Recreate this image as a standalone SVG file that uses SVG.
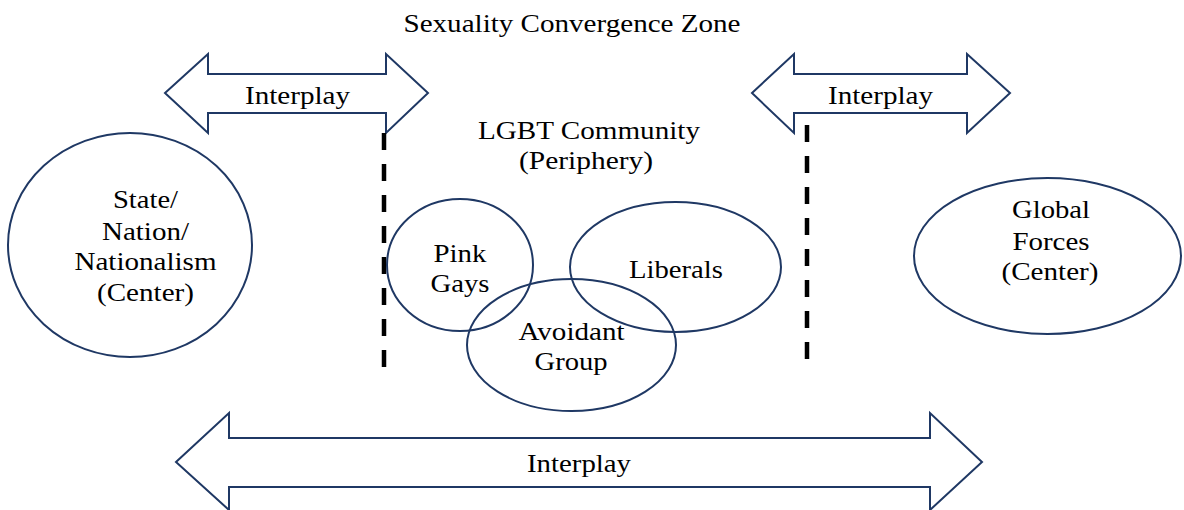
<svg xmlns="http://www.w3.org/2000/svg" width="1184" height="510" viewBox="0 0 1184 510">
  <style>
    .shape { fill: #ffffff; stroke: #1f3864; stroke-width: 2; }
    .ring { fill: none; stroke: #1f3864; stroke-width: 2; }
    .divider { fill: none; stroke: #000000; stroke-width: 4.5; stroke-dasharray: 17 14; }
  </style>

  <g fill="#000000" text-anchor="middle">

    <!-- heading -->
    <text x="572" y="32" font-family="Liberation Serif" font-size="25" textLength="337" lengthAdjust="spacingAndGlyphs">Sexuality Convergence Zone</text>

    <!-- connectors: double-headed block arrows and dashed boundaries -->
    <g id="connectors">
      <g id="arrow-left">
        <polygon class="shape" points="165,93 208,54 208,74 386,74 386,54 428,93 386,133 386,113 208,113 208,133"/>
        <text x="297.5" y="104" font-family="Liberation Serif" font-size="25" textLength="105" lengthAdjust="spacingAndGlyphs">Interplay</text>
      </g>
      <g id="arrow-right">
        <polygon class="shape" points="752,93 794,54 794,74 967,74 967,54 1010,93 967,133 967,113 794,113 794,133"/>
        <text x="880.5" y="104" font-family="Liberation Serif" font-size="25" textLength="105" lengthAdjust="spacingAndGlyphs">Interplay</text>
      </g>
      <g id="arrow-bottom">
        <polygon class="shape" points="176,462 229,413 229,438 930,438 930,413 982,462 930,510 930,487 229,487 229,510"/>
        <text x="579" y="472" font-family="Liberation Serif" font-size="25" textLength="104" lengthAdjust="spacingAndGlyphs">Interplay</text>
      </g>
      <line class="divider" x1="384" y1="133" x2="384" y2="367"/>
      <line class="divider" x1="807" y1="125" x2="807" y2="359"/>
    </g>

    <!-- state node -->
    <g id="node-state">
      <ellipse class="ring" cx="130" cy="245" rx="122" ry="112"/>
      <text x="145.5" y="208" font-family="Liberation Serif" font-size="25" textLength="65" lengthAdjust="spacingAndGlyphs">State/</text>
      <text x="145.5" y="240" font-family="Liberation Serif" font-size="25" textLength="87" lengthAdjust="spacingAndGlyphs">Nation/</text>
      <text x="145.5" y="270" font-family="Liberation Serif" font-size="25" textLength="142" lengthAdjust="spacingAndGlyphs">Nationalism</text>
      <text x="145.5" y="301" font-family="Liberation Serif" font-size="25" textLength="97" lengthAdjust="spacingAndGlyphs">(Center)</text>
    </g>

    <!-- community label -->
    <g id="node-community">
      <text x="589" y="139" font-family="Liberation Serif" font-size="25" textLength="222" lengthAdjust="spacingAndGlyphs">LGBT Community</text>
      <text x="586" y="169" font-family="Liberation Serif" font-size="25" textLength="134" lengthAdjust="spacingAndGlyphs">(Periphery)</text>
    </g>

    <!-- overlapping sub-groups -->
    <g id="node-pink-gays">
      <ellipse class="ring" cx="460" cy="265" rx="73" ry="66"/>
      <text x="460" y="262" font-family="Liberation Serif" font-size="25" textLength="53" lengthAdjust="spacingAndGlyphs">Pink</text>
      <text x="460" y="292" font-family="Liberation Serif" font-size="25" textLength="59" lengthAdjust="spacingAndGlyphs">Gays</text>
    </g>
    <g id="node-liberals">
      <ellipse class="ring" cx="675.5" cy="267" rx="105.5" ry="65"/>
      <text x="676" y="278" font-family="Liberation Serif" font-size="25" textLength="94" lengthAdjust="spacingAndGlyphs">Liberals</text>
    </g>
    <g id="node-avoidant">
      <ellipse class="ring" cx="571.5" cy="345" rx="104.5" ry="66"/>
      <text x="571.5" y="340" font-family="Liberation Serif" font-size="25" textLength="106" lengthAdjust="spacingAndGlyphs">Avoidant</text>
      <text x="571" y="370" font-family="Liberation Serif" font-size="25" textLength="73" lengthAdjust="spacingAndGlyphs">Group</text>
    </g>

    <!-- global node -->
    <g id="node-global">
      <ellipse class="ring" cx="1047.5" cy="256" rx="133.5" ry="78"/>
      <text x="1051" y="218" font-family="Liberation Serif" font-size="25" textLength="78" lengthAdjust="spacingAndGlyphs">Global</text>
      <text x="1051" y="250" font-family="Liberation Serif" font-size="25" textLength="77" lengthAdjust="spacingAndGlyphs">Forces</text>
      <text x="1050" y="280" font-family="Liberation Serif" font-size="25" textLength="97" lengthAdjust="spacingAndGlyphs">(Center)</text>
    </g>
  </g>
</svg>
